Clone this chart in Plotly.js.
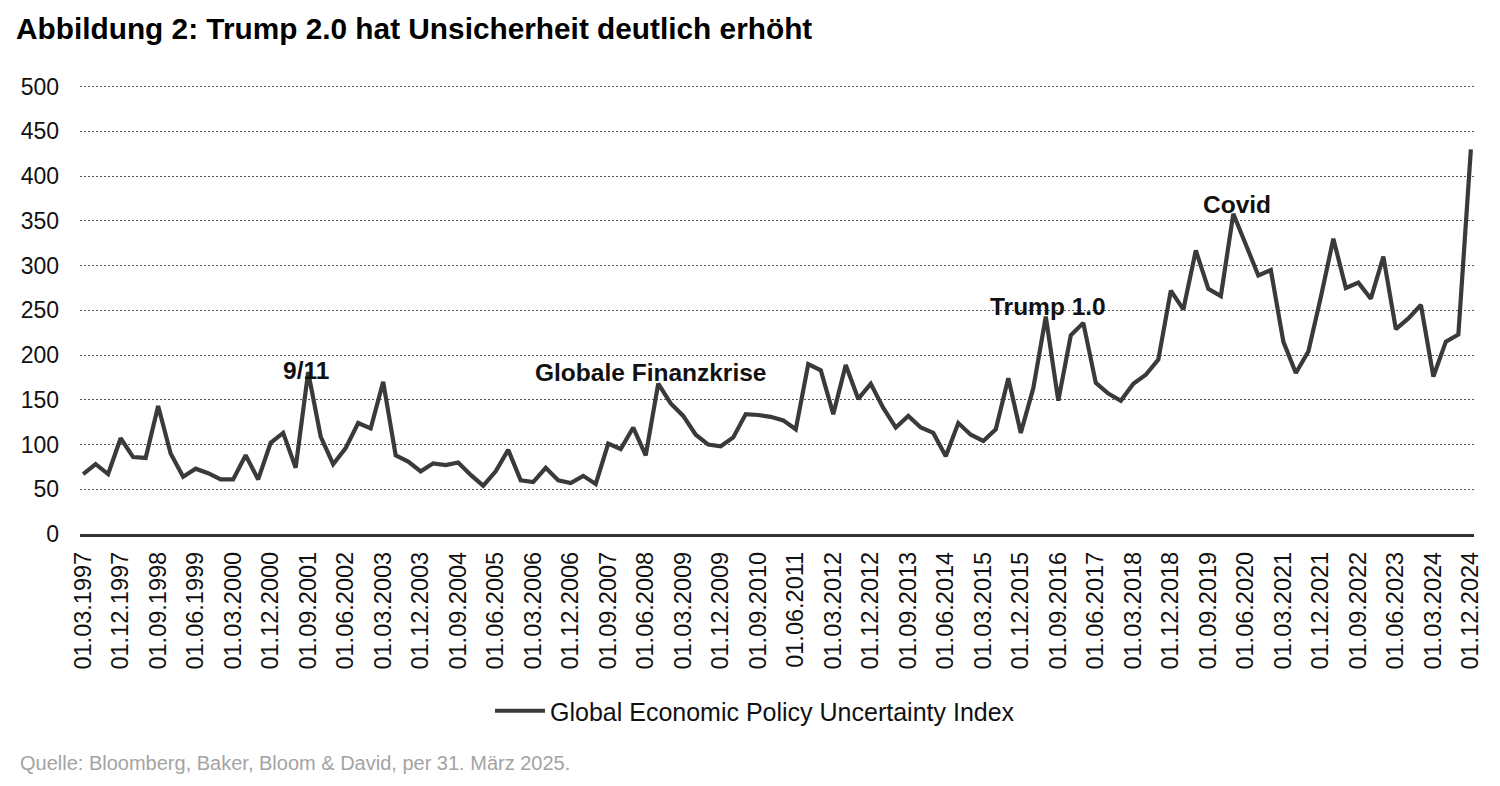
<!DOCTYPE html>
<html>
<head>
<meta charset="utf-8">
<script src="https://cdn.plot.ly/plotly-3.0.1.min.js"></script>
<style>html,body{margin:0;padding:0;background:#fff}#chart{width:1500px;height:786px}</style>
</head>
<body>
<div id="chart"></div>
<script>
// Quarterly Global Economic Policy Uncertainty Index, 01.03.1997 – 01.12.2024
const startYear = 1997;
const endYear = 2024;
const quarterMonths = ["03", "06", "09", "12"];

const epuValues = [
  67, 78, 67, 107, 86, 85, 143, 90, 64, 73, 68, 61, 61, 88, 61, 102, 113, 74, 181, 109,
  78, 96, 124, 118, 170, 88, 81, 70, 79, 77, 80, 66, 54, 70, 94, 60, 58, 74, 60, 57,
  65, 56, 101, 95, 119, 88, 168, 146, 132, 111, 100, 98, 108, 134, 133, 131, 127, 117, 190, 183,
  134, 189, 151, 168, 141, 119, 132, 119, 113, 87, 124, 111, 104, 117, 174, 113, 163, 243, 149, 222,
  236, 169, 157, 149, 168, 178, 195, 272, 251, 317, 274, 266, 358, 325, 289, 295, 215, 180, 204, 265,
  330, 275, 281, 263, 310, 229, 241, 256, 176, 215, 223, 430
];

const tickLabels = [
  "01.03.1997", "01.12.1997", "01.09.1998", "01.06.1999", "01.03.2000", "01.12.2000",
  "01.09.2001", "01.06.2002", "01.03.2003", "01.12.2003", "01.09.2004", "01.06.2005",
  "01.03.2006", "01.12.2006", "01.09.2007", "01.06.2008", "01.03.2009", "01.12.2009",
  "01.09.2010", "01.06.2011", "01.03.2012", "01.12.2012", "01.09.2013", "01.06.2014",
  "01.03.2015", "01.12.2015", "01.09.2016", "01.06.2017", "01.03.2018", "01.12.2018",
  "01.09.2019", "01.06.2020", "01.03.2021", "01.12.2021", "01.09.2022", "01.06.2023",
  "01.03.2024", "01.12.2024"
];

const yTicks = [0, 50, 100, 150, 200, 250, 300, 350, 400, 450, 500];

const eventLabels = ["9/11", "Globale Finanzkrise", "Trump 1.0", "Covid"];
const eventX = [17.8, 45.4, 77.2, 92.3];
const eventY = [183, 181, 254, 368];

const seriesName = "Global Economic Policy Uncertainty Index";
const titleText = "Abbildung 2: Trump 2.0 hat Unsicherheit deutlich erhöht";
const sourceText = "Quelle: Bloomberg, Baker, Bloom & David, per 31. März 2025.";

// build quarterly category labels
const dates = [];
for (let y = startYear; y <= endYear; y++) {
  for (const m of quarterMonths) dates.push("01." + m + "." + y);
}

const FONT = "Liberation Sans, Arial, sans-serif";

const trace = {
  type: "scatter",
  mode: "lines",
  x: dates,
  y: epuValues,
  name: seriesName,
  line: { color: "#3a3a3a", width: 4.2 },
  showlegend: true
};

const annotations = eventLabels.map((t, k) => ({
  x: eventX[k], y: eventY[k], xref: "x", yref: "y",
  text: "<b>" + t + "</b>", showarrow: false,
  font: { family: FONT, size: 24.5, color: "#111" },
  xanchor: "center", yanchor: "middle"
}));

annotations.push({
  x: (18 - 80) / 1394, y: (534 - 763) / 450, xref: "paper", yref: "paper",
  text: sourceText, showarrow: false,
  font: { family: FONT, size: 20, color: "#a3a3a3" },
  xanchor: "left", yanchor: "middle"
});

const layout = {
  width: 1500, height: 786,
  paper_bgcolor: "#ffffff", plot_bgcolor: "#ffffff",
  margin: { l: 80, r: 26, t: 84, b: 252 },
  font: { family: FONT, size: 20, color: "#111" },
  title: {
    text: "<b>" + titleText + "</b>",
    font: { family: FONT, size: 29.8, color: "#000" },
    x: 16 / 1500, xanchor: "left", xref: "container",
    y: 1 - 29 / 786, yanchor: "middle", yref: "container"
  },
  xaxis: {
    type: "category",
    categoryorder: "array",
    categoryarray: dates,
    range: [-0.25, dates.length - 0.75],
    tickmode: "array",
    tickvals: tickLabels,
    ticktext: tickLabels,
    tickangle: -90,
    tickfont: { family: FONT, size: 23.5, color: "#111" },
    showgrid: false,
    showline: true, linecolor: "#333", linewidth: 2.5,
    ticks: "", ticklabelstandoff: 6,
    zeroline: false, fixedrange: true
  },
  yaxis: {
    range: [0, 503],
    tickmode: "array",
    tickvals: yTicks,
    ticktext: yTicks.map(String),
    tickfont: { family: FONT, size: 23, color: "#111" },
    showgrid: true, gridcolor: "#555", gridwidth: 1, griddash: "2px,2px",
    zeroline: false, showline: false,
    ticks: "", ticklabelstandoff: 20, fixedrange: true
  },
  legend: {
    orientation: "h",
    x: (755 - 80) / 1394, xanchor: "center",
    y: (534 - 711) / 450, yanchor: "middle",
    font: { family: FONT, size: 25, color: "#111" },
    itemwidth: 50, bgcolor: "rgba(0,0,0,0)"
  },
  annotations: annotations,
  showlegend: true
};

Plotly.newPlot("chart", [trace], layout, { displayModeBar: false, staticPlot: true });
</script>
</body>
</html>
